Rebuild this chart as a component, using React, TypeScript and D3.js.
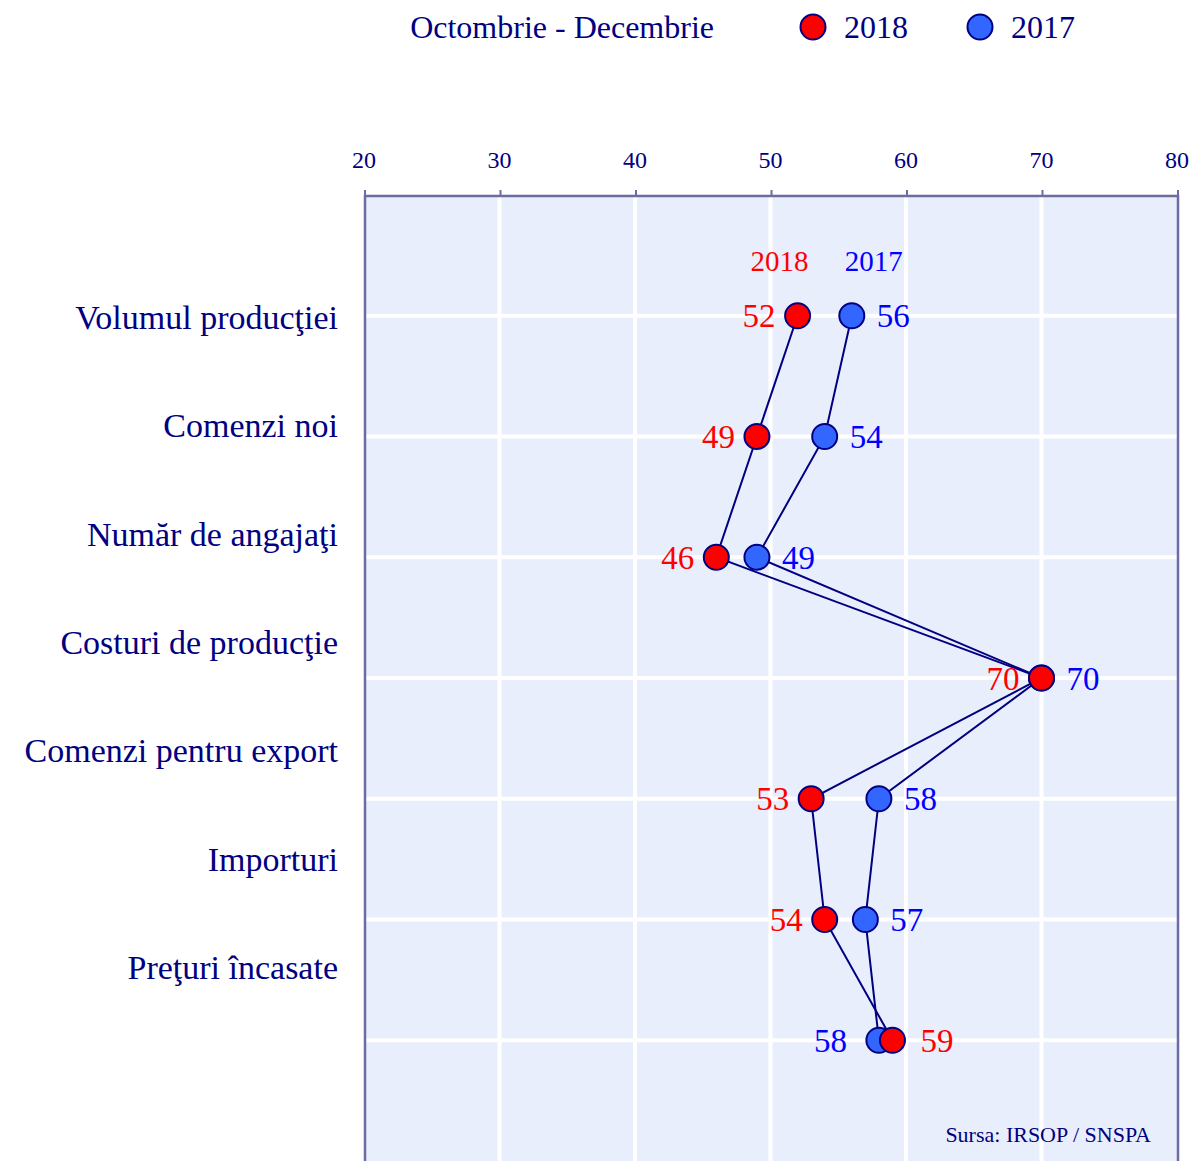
import React from "react";
import * as d3 from "d3";

const categories = [
  "Volumul producţiei",
  "Comenzi noi",
  "Număr de angajaţi",
  "Costuri de producţie",
  "Comenzi pentru export",
  "Importuri",
  "Preţuri încasate",
];
const values2018 = [52, 49, 46, 70, 53, 54, 59];
const values2017 = [56, 54, 49, 70, 58, 57, 58];
const xTicks = [20, 30, 40, 50, 60, 70, 80];
const legendTitle = "Octombrie - Decembrie";
const sourceText = "Sursa: IRSOP / SNSPA";

const W = 1196;
const H = 1161;
const FONT = "'Liberation Serif', 'Times New Roman', serif";
const NAVY = "#000080";
const FRAME = "#6c6ca0";
const RED = "#ff0000";
const BLUE_FILL = "#3366ff";
const BLUE_TEXT = "#0000ff";

export default function App() {
  const left = 365;
  const right = 1178;
  const top = 196;
  const x = d3.scaleLinear().domain([20, 80]).range([left - 1, right - 1]);
  const y = d3.scaleLinear().domain([-1, 7]).range([top - 1, 1161]);
  const yLab = d3.scalePoint<string>().domain(categories).range([317, 967]);
  const idx = d3.range(categories.length);
  const line = d3
    .line<number>()
    .x((v) => x(v))
    .y((_, i) => y(i));

  const series = [
    { name: "2017", values: values2017, fill: BLUE_FILL, text: BLUE_TEXT },
    { name: "2018", values: values2018, fill: RED, text: RED },
  ];

  return (
    <svg
      width={W}
      height={H}
      style={{ position: "absolute", left: 0, top: 0, background: "#fff" }}
      fontFamily={FONT}
    >
      {/* legend */}
      <text x={714} y={27} dy="0.35em" textAnchor="end" fontSize={32} fill={NAVY}>
        {legendTitle}
      </text>
      <circle cx={813} cy={27} r={12.5} fill={RED} stroke={NAVY} strokeWidth={2} />
      <text x={844} y={27} dy="0.35em" fontSize={32} fill={NAVY}>2018</text>
      <circle cx={980} cy={27} r={12.5} fill={BLUE_FILL} stroke={NAVY} strokeWidth={2} />
      <text x={1011} y={27} dy="0.35em" fontSize={32} fill={NAVY}>2017</text>

      {/* plot background */}
      <rect x={left} y={top} width={right - left} height={H - top} fill="#e8eefb" />
      {/* grid */}
      {xTicks.slice(1, -1).map((t) => (
        <line key={t} x1={x(t)} x2={x(t)} y1={top} y2={H} stroke="#fff" strokeWidth={4} />
      ))}
      {idx.map((i) => (
        <line key={i} x1={left} x2={right} y1={y(i)} y2={y(i)} stroke="#fff" strokeWidth={4} />
      ))}
      {/* frame */}
      <line x1={left} x2={right} y1={top} y2={top} stroke={FRAME} strokeWidth={2.5} />
      <line x1={left} x2={left} y1={top - 1} y2={H} stroke={FRAME} strokeWidth={2.5} />
      <line x1={right} x2={right} y1={top - 1} y2={H} stroke={FRAME} strokeWidth={2.5} />
      {xTicks.map((t) => (
        <g key={t}>
          <line x1={x(t) + 1} x2={x(t) + 1} y1={top - 6} y2={top} stroke={FRAME} strokeWidth={2} />
          <text x={x(t)} y={160} dy="0.35em" textAnchor="middle" fontSize={24} fill={NAVY}>
            {t}
          </text>
        </g>
      ))}

      {/* category labels */}
      {categories.map((c) => (
        <text key={c} x={338} y={yLab(c)} dy="0.35em" textAnchor="end" fontSize={34} fill={NAVY}>
          {c}
        </text>
      ))}

      {/* series */}
      {series.map((s) => (
        <g key={s.name}>
          <path d={line(s.values) || ""} fill="none" stroke={NAVY} strokeWidth={2} />
          {s.values.map((v, i) => (
            <circle key={i} cx={x(v)} cy={y(i)} r={12.5} fill={s.fill} stroke={NAVY} strokeWidth={2} />
          ))}
        </g>
      ))}

      {/* value labels */}
      {idx.map((i) => {
        const v18 = values2018[i];
        const v17 = values2017[i];
        const flip = v18 > v17;
        return (
          <g key={i} fontSize={33}>
            <text
              x={flip ? x(v18) + 28 : x(v18) - 22}
              y={y(i)}
              dy="0.35em"
              textAnchor={flip ? "start" : "end"}
              fill={RED}
            >
              {v18}
            </text>
            <text
              x={flip ? x(v17) - 32 : x(v17) + 25}
              y={y(i)}
              dy="0.35em"
              textAnchor={flip ? "end" : "start"}
              fill={BLUE_TEXT}
            >
              {v17}
            </text>
          </g>
        );
      })}

      {/* series header labels */}
      <text x={x(values2018[0]) - 18} y={261} dy="0.35em" textAnchor="middle" fontSize={29} fill={RED}>
        2018
      </text>
      <text x={x(values2017[0]) + 22} y={261} dy="0.35em" textAnchor="middle" fontSize={29} fill={BLUE_TEXT}>
        2017
      </text>

      {/* source */}
      <text x={1151} y={1134} dy="0.35em" textAnchor="end" fontSize={22} fill={NAVY}>
        {sourceText}
      </text>
    </svg>
  );
}
